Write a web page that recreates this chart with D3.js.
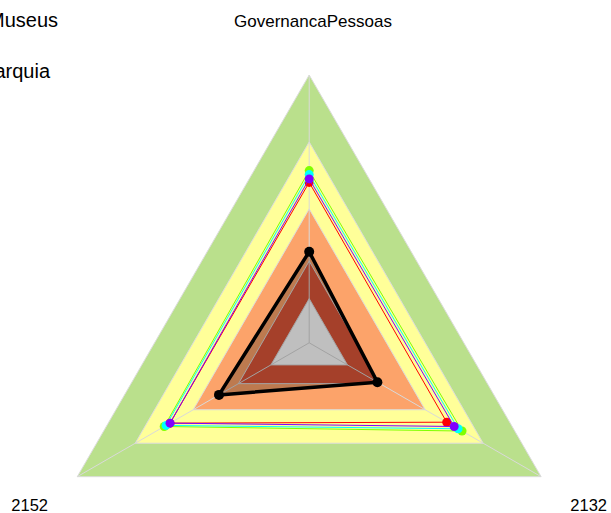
<!DOCTYPE html>
<html>
<head>
<meta charset="utf-8">
<script src="https://cdn.jsdelivr.net/npm/d3@7"></script>
<style>
  body { margin: 0; background: #fff; }
  svg { display: block; font-family: "Liberation Sans", Arial, sans-serif; }
</style>
</head>
<body>
<svg id="radar" width="611" height="513"></svg>
<script>
(function () {
    const width = 611, height = 513

    // axes of the radar (clockwise from top)
    const axes = ["GovernancaPessoas", "2132", "2152"]

    // background bands (outer to inner)
    const bandLevels = [100, 75, 50, 30.5, 16.5]
    const bandColors = ["#bae08c", "#ffff99", "#fca36a", "#dc5638", "#ffffff"]

    // series values, one per axis (top, bottom-right, bottom-left)
    const seriesNames = ["s1", "s2", "s3", "s4", "ref"]
    const seriesColors = ["#ff0000", "#80ff00", "#00ffff", "#8000ff", "#000000"]
    const s1 = [59.9, 59.3, 60.0]
    const s2 = [64.3, 65.9, 62.5]
    const s3 = [62.8, 64.2, 61.7]
    const s4 = [61.2, 62.5, 60.0]
    const ref = [34.0, 29.4, 38.9]
    const seriesValues = [s1, s2, s3, s4, ref]

    // legend labels (partly off the left edge in the original)
    const legendLabels = ["Museus", "Hierarquia"]

    const svg = d3.select("#radar")
    const cx = 309.2, cy = 342.8, R = 267.8

    const r = d3.scaleLinear().domain([0, 100]).range([0, R])
    const angle = d3.scalePoint().domain(axes).range([0, 2 * Math.PI * 2 / 3])

    function pt(axis, v) {
        const a = angle(axis) - Math.PI / 2
        return [cx + r(v) * Math.cos(a), cy + r(v) * Math.sin(a)]
    }
    const line = d3.line()

    // bands
    svg.append("g").selectAll("path")
        .data(bandLevels)
        .enter()
        .append("path")
        .attr("d", (d) => line(axes.map((a) => pt(a, d))) + "Z")
        .attr("fill", (d, i) => bandColors[i])
        .attr("stroke", "#dcdcdc")
        .attr("stroke-width", 1)

    // spokes
    svg.append("g").selectAll("line")
        .data(axes)
        .enter()
        .append("line")
        .attr("x1", cx).attr("y1", cy)
        .attr("x2", (d) => pt(d, 100)[0])
        .attr("y2", (d) => pt(d, 100)[1])
        .attr("stroke", "#d9d9d9")
        .attr("stroke-width", 1)

    // series
    const series = svg.append("g").selectAll("g")
        .data(seriesValues)
        .enter()
        .append("g")

    series.append("path")
        .attr("d", (d) => line(axes.map((a, i) => pt(a, d[i]))) + "Z")
        .attr("fill", (d, i) => seriesNames[i] === "ref" ? "rgba(0,0,0,0.25)" : "none")
        .attr("stroke", (d, i) => seriesColors[i])
        .attr("stroke-width", (d, i) => seriesNames[i] === "ref" ? 3.5 : 1)
        .attr("stroke-linejoin", "round")

    series.each(function (d, i) {
        d3.select(this).selectAll("circle")
            .data(d)
            .enter()
            .append("circle")
            .attr("cx", (v, j) => pt(axes[j], v)[0])
            .attr("cy", (v, j) => pt(axes[j], v)[1])
            .attr("r", seriesNames[i] === "ref" ? 5 : 4.5)
            .attr("fill", seriesColors[i])
    })

    // axis labels
    const labelPos = [[313, 26.7], [588.7, 510.7], [29.7, 510.7]]
    svg.append("g").selectAll("text")
        .data(axes)
        .enter()
        .append("text")
        .attr("x", (d, i) => labelPos[i][0])
        .attr("y", (d, i) => labelPos[i][1])
        .attr("text-anchor", "middle")
        .attr("font-size", (d, i) => i === 0 ? "17px" : "16.5px")
        .attr("fill", "#000")
        .text((d) => d)

    // legend labels
    svg.append("g").selectAll("text")
        .data(legendLabels)
        .enter()
        .append("text")
        .attr("x", (d, i) => [58, 50][i])
        .attr("y", (d, i) => 27 + i * 50.5)
        .attr("text-anchor", "end")
        .attr("font-size", "20px")
        .attr("fill", "#000")
        .text((d) => d)
})();
</script>
</body>
</html>
